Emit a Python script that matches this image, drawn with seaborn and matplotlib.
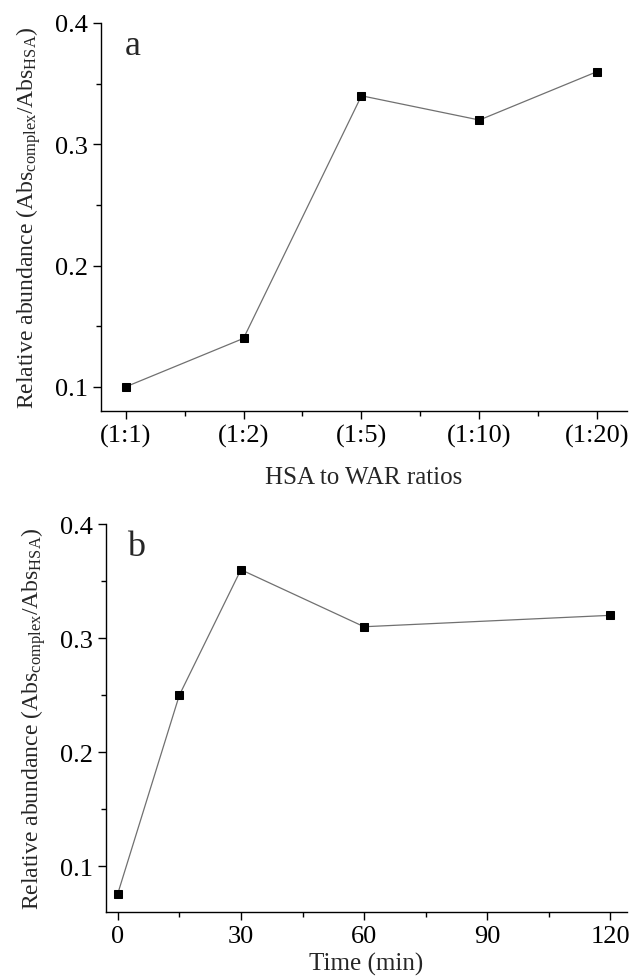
import matplotlib
matplotlib.use("Agg")
import matplotlib.pyplot as plt
from matplotlib.ticker import MultipleLocator
import seaborn as sns
import pandas as pd

# panel a: ratio series
ratio_labels = ["(1:1)", "(1:2)", "(1:5)", "(1:10)", "(1:20)"]
ratio_pos = [1, 2, 3, 4, 5]
ratio_abund = [0.100, 0.140, 0.340, 0.320, 0.360]

# panel b: time series
time_min = [0, 15, 30, 60, 120]
time_abund = [0.076, 0.250, 0.360, 0.310, 0.320]

sns.set_style("ticks")
plt.rcParams["font.family"] = ["Liberation Serif", "DejaVu Serif"]
plt.rcParams["mathtext.fontset"] = "custom"
plt.rcParams["mathtext.rm"] = "Liberation Serif"
plt.rcParams["mathtext.it"] = "Liberation Serif"
plt.rcParams["xtick.direction"] = "out"
plt.rcParams["ytick.direction"] = "out"

ylabel = r"Relative abundance (Abs$_{\mathregular{complex}}$/Abs$_{\mathregular{HSA}}$)"

fig = plt.figure(figsize=(6.3, 9.79), dpi=100)
ax1 = fig.add_axes([0.160, 0.579, 0.835, 0.3965])
ax2 = fig.add_axes([0.168, 0.0674, 0.827, 0.3963])

df_a = pd.DataFrame({"x": ratio_pos, "y": ratio_abund})
df_b = pd.DataFrame({"x": time_min, "y": time_abund})

for ax, df in [(ax1, df_a), (ax2, df_b)]:
    sns.lineplot(data=df, x="x", y="y", ax=ax, color="#707070", linewidth=0.9,
                 marker="s", markersize=5.3, markerfacecolor="black",
                 markeredgecolor="black")
    sns.despine(ax=ax)
    for side in ["left", "bottom"]:
        ax.spines[side].set_linewidth(1.0)
        ax.spines[side].set_color("black")
    ax.yaxis.set_major_locator(MultipleLocator(0.1))
    ax.yaxis.set_minor_locator(MultipleLocator(0.05))
    ax.tick_params(which="major", length=6, width=1, labelsize=19, colors="black", pad=3)
    ax.tick_params(which="minor", length=3.5, width=1, colors="black")
    ax.set_ylabel(ylabel, fontsize=17, labelpad=9)

ax1.set_xlim(0.79, 5.25)
ax1.set_ylim(0.08, 0.4)
ax1.set_xticks(ratio_pos)
ax1.set_xticklabels(ratio_labels)
ax1.xaxis.set_minor_locator(MultipleLocator(0.5))
ax1.set_xlabel("HSA to WAR ratios", fontsize=18, labelpad=14)
ax1.text(0.045, 0.985, "a", transform=ax1.transAxes, fontsize=26, va="top")

ax2.set_xlim(-2.9, 124)
ax2.set_ylim(0.06, 0.4)
ax2.xaxis.set_major_locator(MultipleLocator(30))
ax2.xaxis.set_minor_locator(MultipleLocator(15))
ax2.set_xlabel("Time (min)", fontsize=18, labelpad=4)
ax2.text(0.04, 0.985, "b", transform=ax2.transAxes, fontsize=26, va="top")

fig.savefig("out.png", dpi=100)
